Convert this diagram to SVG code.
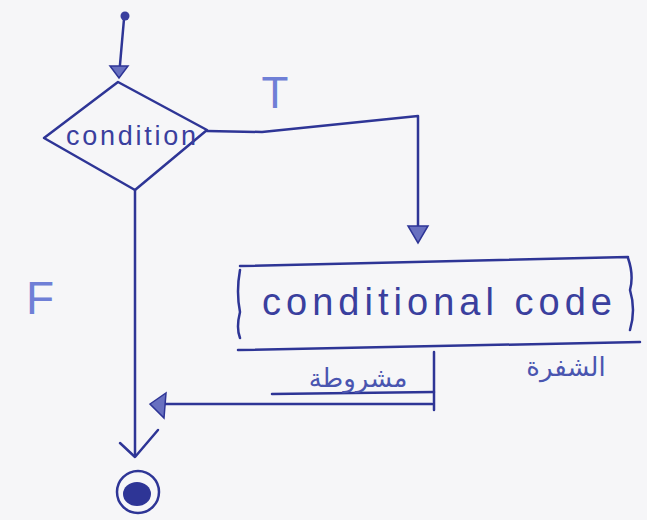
<svg xmlns="http://www.w3.org/2000/svg" width="647" height="520" viewBox="0 0 647 520">
<style>
.ink{fill:none;stroke:#2e3596;stroke-width:2.5;stroke-linecap:round;stroke-linejoin:round}
.head{fill:#6870c0;stroke:#2e3596;stroke-width:1.5}
.txt{font-family:"Liberation Sans",Arial,sans-serif;fill:#3a3f9e}
.lbl{font-family:"Liberation Sans",Arial,sans-serif;fill:#6f7fd6}
.ar{font-family:"DejaVu Sans","Noto Sans",sans-serif;fill:#4a55b0}
</style>
<rect width="647" height="520" fill="#f6f6f8"/>
<g id="connectors">
<path class="ink" d="M124,19 L119,76"/>
<path class="head" d="M110,66 L128,66 L119,78 Z"/>
<path class="ink" d="M207,131 L262,132 L418,116 L418,232"/>
<path class="head" d="M408,226 L428,226 L418,243 Z"/>
<path class="ink" d="M434,352 L434,410 M432,404 L165,404"/>
<path class="head" d="M150,404 L166,393 L164,418 Z"/>
<path class="ink" d="M135,190 L135,455"/>
<path class="ink" d="M120,443 L135,457 L158,430"/>
</g>
<g id="start">
<circle cx="125" cy="16" r="4.5" fill="#3a3f9e"/>
</g>
<g id="condition">
<path class="ink" d="M118,82 L44,138 L135,190 L207,130 Z"/>
<text class="txt" x="66" y="145" font-size="27" textLength="130" lengthAdjust="spacing">condition</text>
</g>
<g id="code">
<path class="ink" d="M240,270 Q236,292 240,312 Q236,328 240,338 M240,266 L628,257 M628,258 Q634,275 630,290 Q636,310 630,330 M238,350 L640,342"/>
<text class="txt" x="262" y="315" font-size="38" textLength="350" lengthAdjust="spacing">conditional code</text>
<path class="ink" d="M272,394 L434,392"/>
<text class="ar" x="358" y="387" font-size="26" text-anchor="middle" direction="rtl">مشروطة</text>
<text class="ar" x="566" y="376" font-size="26" text-anchor="middle" direction="rtl">الشفرة</text>
</g>
<g id="labels">
<text class="lbl" x="275" y="108" font-size="44" text-anchor="middle">T</text>
<text class="lbl" x="40" y="314" font-size="46" text-anchor="middle">F</text>
</g>
<g id="end">
<circle cx="138" cy="492" r="21" fill="none" stroke="#2e3596" stroke-width="2.5"/>
<ellipse cx="137" cy="494" rx="14" ry="12" fill="#2e3596"/>
</g>
</svg>
